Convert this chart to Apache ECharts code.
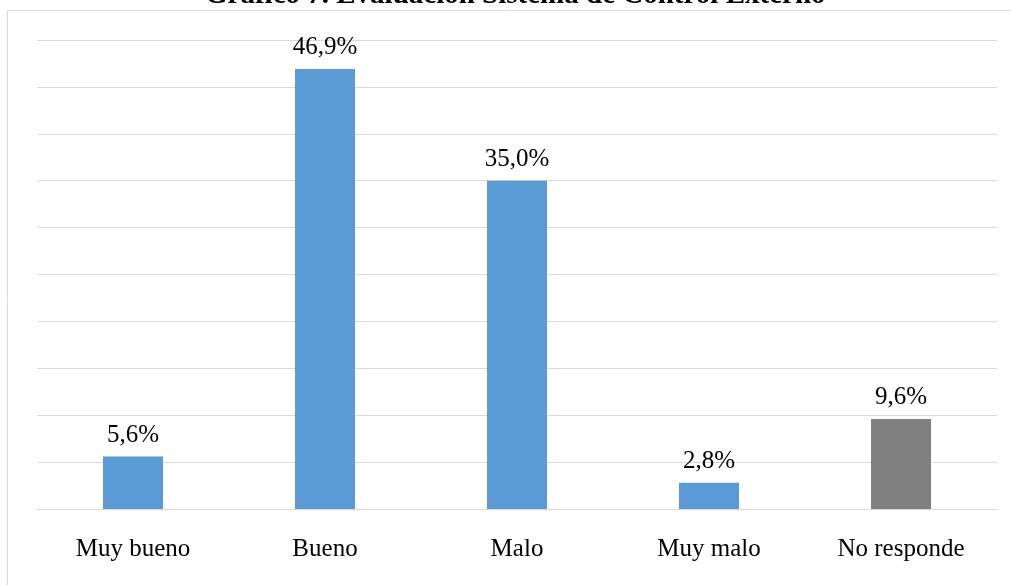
<!DOCTYPE html>
<html>
<head>
<meta charset="utf-8">
<script src="https://cdn.jsdelivr.net/npm/echarts@6/dist/echarts.min.js"></script>
<style>
  html, body { margin: 0; padding: 0; background: #fff; }
  #chart { width: 1011px; height: 585px; }
</style>
</head>
<body>
<div id="chart"></div>
<script>
const titleText = 'Gráfico 7. Evaluación Sistema de Control Externo';
const categories = ['Muy bueno', 'Bueno', 'Malo', 'Muy malo', 'No responde'];
const percentages = [5.6, 46.9, 35.0, 2.8, 9.6];
const barColors = ['#5B9BD5', '#5B9BD5', '#5B9BD5', '#5B9BD5', '#808080'];

const serif = '"Liberation Serif", "Times New Roman", serif';
const chart = echarts.init(document.getElementById('chart'), null, { renderer: 'canvas' });

chart.setOption({
  animation: false,
  backgroundColor: '#ffffff',
  title: {
    text: titleText,
    left: 205,
    top: -19,
    padding: 0,
    textStyle: { fontFamily: serif, fontSize: 29, fontWeight: 'bold', color: '#000' }
  },
  graphic: [{
    type: 'rect',
    shape: { x: 7.5, y: 10.5, width: 1100, height: 700 },
    style: { fill: 'none', stroke: '#d9d9d9', lineWidth: 1 },
    z: -1
  }],
  grid: { left: 37, right: 14, top: 40, bottom: 76 },
  xAxis: {
    type: 'category',
    data: categories,
    axisLine: { lineStyle: { color: '#d9d9d9', width: 1 } },
    axisTick: { show: false },
    axisLabel: { fontFamily: serif, fontSize: 25, color: '#000', margin: 28 }
  },
  yAxis: {
    type: 'value',
    min: 0, max: 50, interval: 5,
    axisLine: { show: false },
    axisTick: { show: false },
    axisLabel: { show: false },
    splitLine: { lineStyle: { color: '#d9d9d9', width: 1 } }
  },
  series: [{
    type: 'bar',
    barWidth: 60,
    data: percentages.map((v, i) => ({ value: v, itemStyle: { color: barColors[i] } })),
    label: {
      show: true,
      position: 'top',
      distance: 9,
      fontFamily: serif,
      fontSize: 25,
      color: '#000',
      formatter: p => p.value.toFixed(1).replace('.', ',') + '%'
    }
  }]
});
</script>
</body>
</html>
